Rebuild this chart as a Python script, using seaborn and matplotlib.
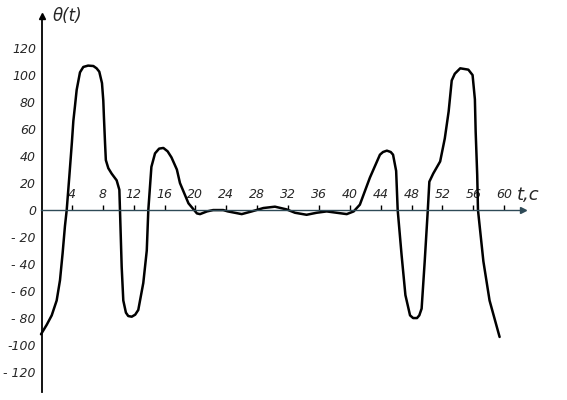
import matplotlib
matplotlib.use("Agg")
import matplotlib.pyplot as plt
import seaborn as sns
import pandas as pd

# ---- data ----
t_values = [0.0, 0.74, 1.39, 2.03, 2.46, 2.8, 3.1, 3.33, 3.67, 4.0, 4.19, 4.4,
            4.62, 5.05, 5.48, 6.1, 6.78, 7.2, 7.55, 7.9, 8.07, 8.15, 8.3, 8.4,
            8.72, 9.15, 9.8, 10.15, 10.23, 10.45, 10.66, 11.0, 11.3, 11.75,
            12.2, 12.6, 13.25, 13.7, 13.9, 14.3, 14.77, 15.3, 15.85, 16.4,
            16.9, 17.6, 18.0, 19.1, 20.2, 20.6, 21.5, 22.3, 23.6, 24.2, 26.0,
            27.3, 28.8, 30.3, 31.8, 32.9, 34.4, 35.7, 37.0, 38.3, 39.6, 40.5,
            41.3, 42.6, 43.9, 44.3, 44.8, 45.3, 45.6, 46.0, 46.2, 46.7, 47.2,
            47.8, 48.2, 48.7, 49.0, 49.3, 49.7, 50.1, 50.3, 50.8, 51.7, 52.3,
            52.8, 53.2, 53.6, 54.3, 55.35, 55.9, 56.2, 56.3, 56.5, 56.6, 57.3,
            58.1, 59.4]
theta_values = [-92, -85, -78, -67, -52, -32, -12, 0, 25, 50, 66, 77,
                89, 102, 106, 107, 106.7, 105, 102.5, 94, 81, 69, 49, 37,
                31, 27, 22, 15, 0, -42, -67, -76, -78.5, -79,
                -77.5, -74, -54, -30, 0, 32, 42, 45.5, 46, 43.5,
                39, 30, 20, 5, -2.5, -3, -1, 0, 0, -1, -3,
                -1, 1.5, 2.5, 0.5, -2, -3.5, -2, -1, -2, -3, -1,
                4, 24, 41, 43, 44, 43, 41, 29, 0, -33, -63,
                -78, -80, -80, -78, -73, -38, 0, 21, 27, 36, 53,
                73, 96, 101, 105, 104, 100, 82, 58, 26, 0, -38,
                -67, -94]

x_ticks = [4, 8, 12, 16, 20, 24, 28, 32, 36, 40, 44, 48, 52, 56, 60]
x_tick_labels = ["4", "8", "12", "16", "20", "24", "28", "32", "36", "40",
                 "44", "48", "52", "56", "60"]
y_ticks = [120, 100, 80, 60, 40, 20, 0, -20, -40, -60, -80, -100, -120]
y_tick_labels = ["120", "100", "80", "60", "40", "20", "0", "- 20", "- 40",
                 "- 60", "- 80", "-100", "- 120"]
y_axis_title = "θ(t)"
x_axis_title = "t,c"

df = pd.DataFrame({"t": t_values, "theta": theta_values})

sns.set_style("white")
plt.rcParams["font.family"] = ["DejaVu Sans"]

fig = plt.figure(figsize=(5.67, 4.0), dpi=100)
ax = fig.add_axes([0, 0, 1, 1])

sns.lineplot(data=df, x="t", y="theta", sort=False, estimator=None,
             color="black", linewidth=1.8, ax=ax)
for ln in ax.lines:
    ln.set_solid_joinstyle("round")
    ln.set_solid_capstyle("round")

ax.set_xlim(-5.31, 68.13)
ax.set_ylim(-140.7, 155.6)

axis_col = "#2e4a57"
# x axis drawn as top spine through zero
ax.spines["bottom"].set_visible(False)
ax.spines["right"].set_visible(False)
ax.spines["top"].set_position(("data", 0))
ax.spines["top"].set_bounds(0, 62.0)
ax.spines["top"].set_color(axis_col)
ax.spines["top"].set_linewidth(1.0)
ax.spines["left"].set_position(("data", 0.15))
ax.spines["left"].set_bounds(-135, 142)
ax.spines["left"].set_color("black")
ax.spines["left"].set_linewidth(1.3)

ax.xaxis.set_ticks_position("top")
ax.set_xticks(x_ticks)
ax.set_xticklabels(x_tick_labels, fontstyle="italic", fontsize=9)
ax.tick_params(axis="x", direction="out", length=3.5, width=1.0,
               color="black", pad=3)
ax.set_yticks(y_ticks)
ax.set_yticklabels(y_tick_labels, fontstyle="italic", fontsize=9)
ax.tick_params(axis="y", length=0, pad=4.5)
ax.set_xlabel("")
ax.set_ylabel("")

# arrow heads
ax.plot([62.4], [0], marker=">", color=axis_col, markersize=5, clip_on=False)
ax.plot([0.15], [144], marker="^", color="black", markersize=5, clip_on=False)

ax.text(1.55, 143.5, y_axis_title, fontsize=12, fontstyle="italic",
        ha="left", va="center")
ax.text(61.6, 11, x_axis_title, fontsize=13, fontstyle="italic",
        ha="left", va="center")

fig.savefig("out.png", dpi=100, facecolor="white")
